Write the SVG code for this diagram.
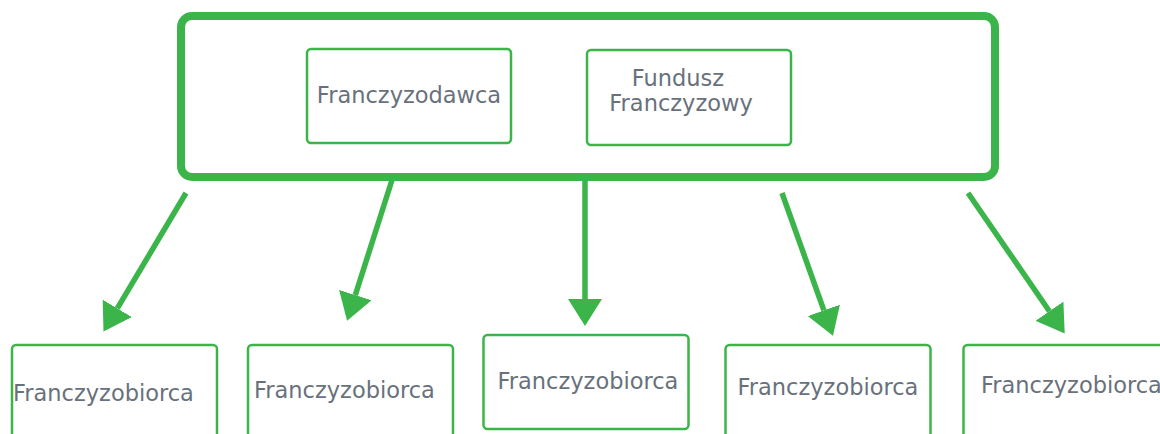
<svg xmlns="http://www.w3.org/2000/svg" width="1160" height="434" viewBox="0 0 1160 434">
  <style>
    .box { fill: #ffffff; stroke: #3bb54a; stroke-width: 2.5; }
    .outer { fill: none; stroke: #3bb54a; stroke-width: 8; }
    .lbl { font-family: "DejaVu Sans", Verdana, sans-serif; font-size: 22.5px; fill: #68717b; }
    .conn { stroke: #3bb54a; stroke-width: 5.5; fill: none; }
  </style>
  <defs>
    <marker id="arrow" markerUnits="userSpaceOnUse" markerWidth="27" markerHeight="34" refX="0" refY="17" orient="auto">
      <path d="M0,0 L27,17 L0,34 z" fill="#3bb54a"/>
    </marker>
  </defs>
  <rect width="1160" height="434" fill="#ffffff"/>

  <g id="group-top">
    <rect class="outer" x="181" y="16" width="814" height="161" rx="11"/>
  </g>

  <g id="connectors">
    <line class="conn" x1="186" y1="193" x2="117.3" y2="308.4" marker-end="url(#arrow)"/>
    <line class="conn" x1="392" y1="180" x2="355.3" y2="295.1" marker-end="url(#arrow)"/>
    <line class="conn" x1="585" y1="180" x2="585" y2="299" marker-end="url(#arrow)"/>
    <line class="conn" x1="782" y1="193" x2="823.9" y2="310.4" marker-end="url(#arrow)"/>
    <line class="conn" x1="968" y1="193" x2="1049.4" y2="311.2" marker-end="url(#arrow)"/>
  </g>

  <g id="franczyzodawca">
    <rect class="box" x="307" y="49" width="204" height="94" rx="4"/>
    <text class="lbl" x="409" y="103" text-anchor="middle">Franczyzodawca</text>
  </g>

  <g id="fundusz">
    <rect class="box" x="587" y="50" width="204" height="95" rx="4"/>
    <text class="lbl" x="678" y="86" text-anchor="middle">Fundusz</text>
    <text class="lbl" x="681" y="111" text-anchor="middle">Franczyzowy</text>
  </g>

  <g id="franczyzobiorca-1">
    <rect class="box" x="12" y="345" width="205" height="95" rx="4"/>
    <text class="lbl" x="13" y="401">Franczyzobiorca</text>
  </g>
  <g id="franczyzobiorca-2">
    <rect class="box" x="248" y="345" width="205" height="95" rx="4"/>
    <text class="lbl" x="254" y="398">Franczyzobiorca</text>
  </g>
  <g id="franczyzobiorca-3">
    <rect class="box" x="483.5" y="335" width="205" height="94" rx="4"/>
    <text class="lbl" x="497.5" y="389">Franczyzobiorca</text>
  </g>
  <g id="franczyzobiorca-4">
    <rect class="box" x="725.5" y="345" width="205" height="95" rx="4"/>
    <text class="lbl" x="737.5" y="395">Franczyzobiorca</text>
  </g>
  <g id="franczyzobiorca-5">
    <rect class="box" x="963.5" y="345" width="205" height="95" rx="4"/>
    <text class="lbl" x="981" y="393">Franczyzobiorca</text>
  </g>
</svg>
